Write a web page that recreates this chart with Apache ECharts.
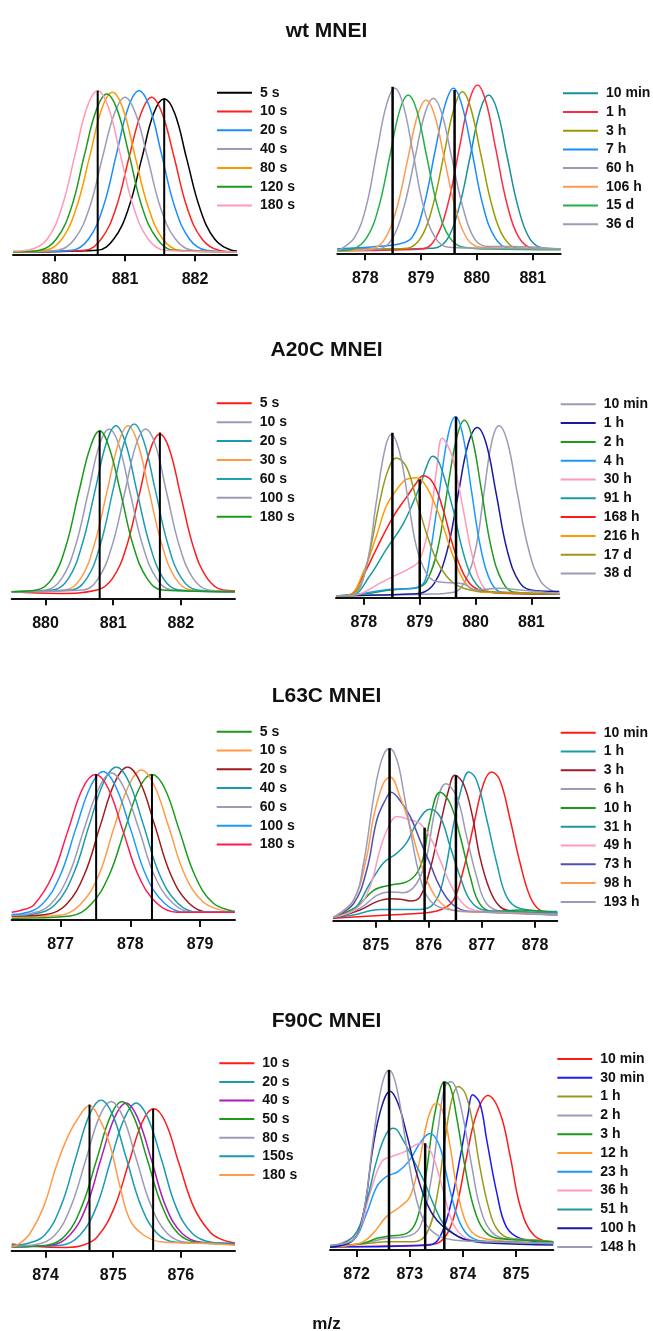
<!DOCTYPE html>
<html>
<head>
<meta charset="utf-8">
<script src="https://cdn.jsdelivr.net/npm/echarts@6/dist/echarts.min.js"></script>
<style>
  html, body { margin: 0; padding: 0; background: #fff; }
  #chart { width: 653px; height: 1331px; }
</style>
</head>
<body>
<div id="chart"></div>
<script>
// ---------- data (m/z, relative intensity) ----------
var wtFastNames = ['5 s', '10 s', '20 s', '40 s', '80 s', '120 s', '180 s'];
var wtFastTicks = [880, 881, 882];
var wtFastCurves = [
  [[879.4,0],[880.60,1],[880.84,8],[881.05,27],[881.24,58],[881.41,86],[881.56,95],[881.71,86],[881.88,58],[882.07,27],[882.28,8],[882.52,1],[882.6,0.5]],
  [[879.4,0],[880.42,1],[880.66,8],[880.87,27],[881.06,59],[881.23,86],[881.38,96],[881.53,86],[881.70,59],[881.89,27],[882.10,8],[882.34,1],[882.6,0]],
  [[879.4,0],[880.24,1],[880.48,8],[880.69,28],[880.88,61],[881.05,90],[881.20,100],[881.35,90],[881.52,61],[881.71,28],[881.92,8],[882.16,1],[882.6,0]],
  [[879.4,0],[880.04,1],[880.28,8],[880.49,27],[880.68,59],[880.85,86],[881.00,96],[881.15,86],[881.32,59],[881.51,27],[881.72,8],[881.96,1],[882.6,0]],
  [[879.4,0],[879.86,1],[880.10,8],[880.31,28],[880.50,60],[880.67,89],[880.82,99],[880.97,89],[881.14,60],[881.33,28],[881.54,8],[881.78,1],[882.6,0]],
  [[879.4,0],[879.78,1],[880.02,8],[880.23,27],[880.42,60],[880.59,88],[880.74,98],[880.89,88],[881.06,60],[881.25,27],[881.46,8],[881.70,1],[882.6,0]],
  [[879.4,0.5],[879.65,1.5],[879.89,8],[880.10,28],[880.29,61],[880.46,90],[880.61,100],[880.76,90],[880.93,61],[881.12,28],[881.33,8],[881.57,1],[882.6,0]]
];
var wtFastPeaks = [[880.61,100],[881.56,95]];

var wtSlowNames = ['10 min', '1 h', '3 h', '7 h', '60 h', '106 h', '15 d', '36 d'];
var wtSlowTicks = [878, 879, 880, 881];
var wtSlowCurves = [
  [[877.5,1],[878.5,1],[879.22,1.5],[879.47,7],[879.68,26],[879.88,57],[880.06,85],[880.21,94],[880.36,85],[880.54,57],[880.74,26],[880.95,7],[881.20,1.5],[881.5,1]],
  [[877.5,0],[879.02,1],[879.27,8],[879.48,28],[879.68,61],[879.86,90],[880.01,100],[880.16,90],[880.34,61],[880.54,28],[880.75,8],[881.00,1.5],[881.5,1]],
  [[877.5,0],[878.3,1],[878.75,1.5],[879.00,8],[879.21,27],[879.41,58],[879.59,86],[879.74,96],[879.89,86],[880.07,58],[880.27,27],[880.48,8],[880.73,1.5],[881.5,1]],
  [[877.5,1],[878.2,2.5],[878.6,4],[878.84,8],[879.05,27],[879.25,60],[879.43,88],[879.58,98],[879.73,88],[879.91,60],[880.11,27],[880.32,8],[880.57,1.5],[881.5,1]],
  [[877.5,0],[878.23,1],[878.48,7],[878.69,26],[878.89,56],[879.07,83],[879.22,92],[879.37,83],[879.55,56],[879.75,26],[879.96,7],[880.21,2.5],[880.6,2.5],[881.5,1]],
  [[877.5,0],[878.10,1],[878.35,7],[878.56,25],[878.76,55],[878.94,82],[879.09,91],[879.24,82],[879.42,55],[879.62,25],[879.83,7],[880.08,2],[880.5,1.5],[881.5,1]],
  [[877.5,0],[877.78,1],[878.03,8],[878.24,26],[878.44,57],[878.62,85],[878.77,94],[878.92,85],[879.10,57],[879.30,26],[879.51,8],[879.76,2],[880.2,1],[881.5,0.5]],
  [[877.5,0],[877.57,1],[877.81,8],[878.02,27],[878.21,60],[878.38,88],[878.53,98],[878.68,88],[878.85,60],[879.04,27],[879.25,8],[879.49,2],[880.0,1.5],[881.5,1]]
];
var wtSlowPeaks = [[878.49,99],[879.60,97]];

var a20cFastNames = ['5 s', '10 s', '20 s', '30 s', '60 s', '100 s', '180 s'];
var a20cFastTicks = [880, 881, 882];
var a20cFastCurves = [
  [[879.5,0],[880.2,-1],[880.76,1],[880.99,8],[881.19,26],[881.38,57],[881.55,85],[881.69,94],[881.83,85],[882.00,57],[882.19,26],[882.39,8],[882.62,1],[882.8,0.5]],
  [[879.5,0],[880.01,1],[880.24,8],[880.44,27],[880.63,59],[880.80,88],[880.94,97],[881.08,88],[881.25,59],[881.44,27],[881.64,8],[881.87,1],[882.8,0]],
  [[879.5,0],[880.11,1],[880.34,8],[880.54,28],[880.73,60],[880.90,89],[881.04,99],[881.18,89],[881.35,60],[881.54,28],[881.74,8],[881.97,1],[882.8,0]],
  [[879.5,0],[880.29,1],[880.52,8],[880.72,28],[880.91,60],[881.08,89],[881.22,99],[881.36,89],[881.53,60],[881.72,28],[881.92,8],[882.15,1],[882.8,0]],
  [[879.5,0],[880.38,1],[880.61,8],[880.81,28],[881.00,61],[881.17,90],[881.31,100],[881.45,90],[881.62,61],[881.81,28],[882.01,8],[882.24,1],[882.8,0]],
  [[879.5,0],[880.55,1],[880.78,8],[880.98,27],[881.17,59],[881.34,88],[881.48,97],[881.62,88],[881.79,59],[881.98,27],[882.18,8],[882.41,1],[882.8,0]],
  [[879.5,0],[879.87,1],[880.10,8],[880.30,27],[880.49,59],[880.66,86],[880.80,96],[880.94,86],[881.11,59],[881.30,27],[881.50,8],[881.73,1],[882.8,0]]
];
var a20cFastPeaks = [[880.80,96],[881.69,95]];

var a20cSlowNames = ['10 min', '1 h', '2 h', '4 h', '30 h', '91 h', '168 h', '216 h', '17 d', '38 d'];
var a20cSlowTicks = [878, 879, 880, 881];
var a20cSlowCurves = [
  [[877.5,0],[878.5,0.5],[879.2,1],[879.61,2],[879.81,8],[880.00,26],[880.14,55],[880.29,86],[880.42,95],[880.57,86],[880.75,57],[880.95,26],[881.17,8],[881.42,2],[881.5,1.5]],
  [[877.5,0],[878.3,0.5],[878.8,1],[879.01,1.5],[879.26,7],[879.49,25],[879.69,57],[879.87,85],[880.03,94],[880.19,85],[880.37,57],[880.57,25],[880.80,7],[881.05,3],[881.5,2.5]],
  [[877.5,0],[878.0,1],[878.4,3],[878.7,3.8],[878.95,4.5],[879.12,8],[879.32,26],[879.50,60],[879.66,88],[879.80,98],[879.94,88],[880.10,60],[880.28,27],[880.48,8],[880.70,2],[881.5,1]],
  [[877.5,0],[878.0,1.5],[878.4,3.5],[878.75,4],[878.98,5],[879.10,9],[879.20,26],[879.36,60],[879.51,90],[879.64,100],[879.77,90],[879.92,60],[880.09,27],[880.27,8],[880.48,2],[881.5,1]],
  [[877.5,0],[877.86,0.6],[878.28,7],[878.58,11.7],[878.82,15.4],[879.00,20],[879.18,42],[879.30,70],[879.40,88],[879.50,84],[879.60,76],[879.78,48],[879.96,20],[880.14,5],[880.38,1.5],[881.5,1]],
  [[877.5,0],[877.80,0.5],[878.10,11],[878.40,26],[878.70,40],[879.00,61],[879.12,72],[879.23,78],[879.32,76],[879.42,68],[879.60,48],[879.78,24],[879.96,9],[880.20,2.4],[880.56,1.5],[881.5,1]],
  [[877.5,0],[877.74,0.5],[877.98,11],[878.22,26],[878.52,44],[878.76,55],[878.94,63],[879.06,67],[879.24,63],[879.42,48],[879.60,27.5],[879.78,12.6],[879.96,5],[880.20,2.4],[880.56,1.5],[881.5,1]],
  [[877.5,0],[877.74,0.5],[877.98,12.6],[878.22,33],[878.40,50],[878.58,59],[878.76,65],[878.94,66],[879.12,61],[879.36,44],[879.60,22],[879.78,9],[879.96,3.3],[880.20,2],[881.5,1.5]],
  [[877.5,0],[877.68,0],[877.92,5],[878.10,24],[878.28,52],[878.43,70],[878.58,77],[878.76,72],[878.94,54],[879.12,35],[879.30,20],[879.48,11],[879.66,6],[879.90,3.3],[880.20,2.4],[881.5,1]],
  [[877.5,0],[877.80,0.5],[878.04,16],[878.22,52],[878.37,81],[878.49,90],[878.64,80],[878.79,54],[878.94,27.5],[879.12,12.6],[879.30,8],[879.54,7.4],[879.78,6.7],[880.02,3.3],[880.44,4.3],[880.80,3.3],[881.40,1.5],[881.5,1.2]]
];
var a20cSlowPeaks = [[878.51,91],[879.00,65],[879.65,100]];

var l63cFastNames = ['5 s', '10 s', '20 s', '40 s', '60 s', '100 s', '180 s'];
var l63cFastTicks = [877, 878, 879];
var l63cFastCurves = [
  [[876.3,-1],[877.14,0.5],[877.43,8],[877.69,27],[877.92,58],[878.13,86],[878.31,95],[878.49,86],[878.70,58],[878.93,27],[879.19,9],[879.5,3.5]],
  [[876.3,0],[876.99,1],[877.28,8],[877.54,27],[877.77,60],[877.98,88],[878.16,98],[878.34,88],[878.55,60],[878.78,28],[879.04,10],[879.33,4],[879.5,3]],
  [[876.3,0.5],[876.79,1.5],[877.08,8],[877.34,28],[877.57,61],[877.78,90],[877.96,100],[878.14,90],[878.35,61],[878.58,28],[878.84,9],[879.13,3],[879.5,3]],
  [[876.3,1],[876.63,2],[876.92,8],[877.18,28],[877.41,61],[877.62,90],[877.80,100],[877.98,90],[878.19,61],[878.42,28],[878.68,9],[878.97,3],[879.5,3]],
  [[876.3,1],[876.56,2],[876.85,8],[877.11,27],[877.34,59],[877.55,86],[877.73,96],[877.91,86],[878.12,59],[878.35,27],[878.61,9],[878.90,3],[879.5,3]],
  [[876.3,1.5],[876.44,2],[876.73,8],[876.99,27],[877.22,59],[877.43,87],[877.61,97],[877.79,87],[878.00,59],[878.23,27],[878.49,9],[878.78,3],[879.5,3]],
  [[876.3,3],[876.45,4.5],[876.62,8],[876.88,27],[877.11,58],[877.32,86],[877.50,95],[877.68,86],[877.89,58],[878.12,27],[878.38,9],[878.67,3],[879.5,3]]
];
var l63cFastPeaks = [[877.51,95],[878.31,95]];

var l63cSlowNames = ['10 min', '1 h', '3 h', '6 h', '10 h', '31 h', '49 h', '73 h', '98 h', '193 h'];
var l63cSlowTicks = [875, 876, 877, 878];
var l63cSlowCurves = [
  [[874.2,-0.6],[875.0,1],[875.83,2.4],[876.21,4.3],[876.46,10],[876.65,28],[876.84,54],[877.03,79],[877.18,86],[877.34,81],[877.53,58],[877.72,32],[877.91,12],[878.09,4.3],[878.42,1.4]],
  [[874.2,0],[874.58,1.4],[875.08,4.7],[875.83,4.7],[876.09,8],[876.27,22],[876.46,54],[876.62,77],[876.75,86],[876.90,81],[877.09,58],[877.28,32],[877.47,12],[877.72,5.3],[878.42,3.4]],
  [[874.2,-0.6],[874.70,4.3],[875.02,9.3],[875.27,11],[875.46,10.7],[875.65,9.7],[875.83,12],[876.02,28],[876.21,54],[876.37,75],[876.49,84],[876.65,79],[876.81,61.5],[876.96,36],[877.15,16],[877.34,6.3],[877.59,3.4],[878.42,2.4]],
  [[874.2,0],[874.70,5.3],[875.02,13],[875.27,15],[875.52,14.6],[875.77,20],[875.96,36],[876.12,63.5],[876.32,79],[876.53,71],[876.71,48],[876.90,24],[877.09,8],[877.40,3.4],[878.42,2.4]],
  [[874.2,0],[874.64,6.3],[874.96,16],[875.27,19],[875.58,21],[875.77,26],[875.90,36],[876.02,57.6],[876.21,74],[876.40,67.5],[876.59,48],[876.78,24],[876.96,8],[877.22,3.4],[877.72,4.3],[878.42,2.8]],
  [[874.2,0],[874.58,4.3],[874.89,20],[875.14,32],[875.40,38],[875.58,44],[875.77,55.6],[876.02,64],[876.21,59.6],[876.40,42],[876.59,24],[876.78,10],[877.03,4.3],[877.47,3.4],[878.42,2.8]],
  [[874.2,0],[874.64,5.3],[874.89,18],[875.08,40],[875.24,53.6],[875.40,59.6],[875.65,57.6],[875.83,55.6],[876.02,47.7],[876.21,34],[876.40,20],[876.59,10],[876.84,4.3],[877.40,2.8],[878.42,1.4]],
  [[874.2,0],[874.58,8],[874.83,28],[875.02,57.6],[875.18,69.4],[875.29,74],[875.46,69],[875.65,59.6],[875.83,45.8],[876.02,32],[876.21,18],[876.46,7.3],[876.78,3.4],[877.40,2.8],[878.42,1.4]],
  [[874.2,0],[874.58,10],[874.83,36],[874.96,59.6],[875.14,79],[875.27,83],[875.46,71],[875.65,53.6],[875.83,34],[876.02,18],[876.27,7.3],[876.59,3.4],[877.40,2.8],[878.42,1.4]],
  [[874.2,0],[874.58,10],[874.77,32],[874.96,71],[875.11,93],[875.26,100],[875.40,93],[875.52,75],[875.65,51.7],[875.83,24],[876.02,10],[876.27,5.3],[876.78,3.4],[878.42,1.4]]
];
var l63cSlowPeaks = [[875.26,100],[875.92,53],[876.51,84]];

var f90cFastNames = ['10 s', '20 s', '40 s', '50 s', '80 s', '150s', '180 s'];
var f90cFastTicks = [874, 875, 876];
var f90cFastCurves = [
  [[873.5,1.8],[873.8,0.3],[874.3,-0.5],[874.55,1],[874.77,7],[875.01,26],[875.23,57],[875.43,85],[875.60,94],[875.77,85],[875.97,57],[876.19,27],[876.43,10],[876.6,5],[876.8,2.5]],
  [[873.5,0],[874.23,1],[874.51,8],[874.75,27],[874.97,60],[875.17,88],[875.34,98],[875.51,88],[875.71,60],[875.93,27],[876.17,9],[876.45,3],[876.8,2]],
  [[873.5,0],[874.08,1],[874.36,8],[874.60,27],[874.82,60],[875.02,88],[875.19,98],[875.36,88],[875.56,60],[875.78,27],[876.02,9],[876.30,3],[876.8,2]],
  [[873.5,0],[874.02,1],[874.30,8],[874.54,28],[874.76,60],[874.96,89],[875.13,99],[875.30,89],[875.50,60],[875.72,28],[875.96,9],[876.24,3],[876.8,2]],
  [[873.5,0.5],[873.86,1.5],[874.14,8],[874.38,28],[874.60,60],[874.80,89],[874.97,99],[875.14,89],[875.34,60],[875.56,28],[875.80,9],[876.08,3],[876.8,2]],
  [[873.5,1],[873.71,2],[873.99,8],[874.23,28],[874.45,61],[874.65,90],[874.82,100],[874.99,90],[875.19,61],[875.41,28],[875.65,9],[875.93,3],[876.8,2]],
  [[873.5,0],[873.62,2.3],[873.77,9],[873.97,27],[874.16,55],[874.31,73],[874.46,86],[874.65,96],[874.81,86],[874.96,68],[875.10,41],[875.25,18],[875.45,8],[875.70,3.4],[876.29,2.3],[876.8,1]]
];
var f90cFastPeaks = [[874.65,97],[875.59,94]];

var f90cSlowNames = ['10 min', '30 min', '1 h', '2 h', '3 h', '12 h', '23 h', '36 h', '51 h', '100 h', '148 h'];
var f90cSlowTicks = [872, 873, 874, 875];
var f90cSlowCurves = [
  [[871.5,0],[872.56,0.4],[873.44,1.3],[873.69,6.6],[873.88,22.6],[874.07,51],[874.26,75.5],[874.47,85.5],[874.70,75.5],[874.89,51],[875.08,22.6],[875.33,6.6],[875.7,1.9]],
  [[871.5,0],[872.0,0],[873.38,1],[873.57,5.7],[873.76,22.6],[873.95,51],[874.10,75.5],[874.18,86],[874.32,81],[874.45,60],[874.64,30],[874.82,11],[875.08,4.7],[875.7,1.9]],
  [[871.5,0],[872.25,1.9],[872.56,2.8],[873.07,2.8],[873.32,7.5],[873.51,28],[873.66,60],[873.79,83],[873.91,90.6],[874.04,87],[874.17,72],[874.32,45],[874.48,22.6],[874.64,10],[874.89,4.7],[875.39,3.8],[875.7,2.8]],
  [[871.5,0],[872.13,1.9],[872.56,4.7],[872.94,5.7],[873.19,11],[873.38,34],[873.54,68],[873.66,90.6],[873.78,93.4],[873.88,88.7],[874.01,72],[874.17,45],[874.32,22.6],[874.51,9.4],[874.76,4.7],[875.20,3.8],[875.7,2.8]],
  [[871.5,0],[872.13,1.9],[872.38,4.7],[872.63,6],[872.94,7.5],[873.13,15],[873.29,37.7],[873.44,70],[873.57,88.7],[873.65,93.4],[873.76,90.6],[873.88,73.6],[874.04,45],[874.20,22.6],[874.39,9.4],[874.64,4.7],[875.08,3.8],[875.7,2.8]],
  [[871.5,0],[872.06,1.9],[872.31,7.5],[872.56,17],[872.82,22.6],[873.00,28],[873.16,45],[873.32,70],[873.44,80],[873.52,81],[873.63,75.5],[873.76,56.6],[873.88,34],[874.04,15],[874.23,6.6],[874.57,3.8],[875.7,1.9]],
  [[871.5,0],[871.94,3.8],[872.19,19],[872.38,34],[872.56,39.6],[872.78,42.5],[873.00,49],[873.19,58.5],[873.38,64],[873.54,58.5],[873.66,45],[873.79,28],[873.95,13],[874.13,5.7],[874.45,2.8],[875.7,1.9]],
  [[871.5,0],[872.00,7.5],[872.25,30],[872.47,48],[872.66,51],[872.91,53.8],[873.10,57.5],[873.21,58.5],[873.38,54.7],[873.54,41.5],[873.69,24.5],[873.85,11],[874.07,4.7],[874.45,2.8],[875.7,1.9]],
  [[871.5,0],[871.94,5.7],[872.19,26],[872.38,49],[872.56,64],[872.70,67],[872.88,60],[873.07,49],[873.26,37.7],[873.44,24.5],[873.63,13],[873.82,7.5],[874.07,3.8],[874.76,2.8],[875.7,1.9]],
  [[871.5,-0.4],[871.94,3.8],[872.13,19],[872.31,56.6],[872.47,79],[872.63,88],[872.78,81],[872.94,64],[873.13,41.5],[873.32,24.5],[873.51,15],[873.76,8.5],[874.07,3.8],[874.57,1.9],[875.7,1]],
  [[871.5,1],[871.94,3.8],[872.13,19],[872.31,60],[872.47,90.6],[872.61,100],[872.75,90.6],[872.91,62],[873.07,34],[873.26,15],[873.51,6.6],[873.82,3.8],[874.45,2.8],[875.7,1.9]]
];
var f90cSlowPeaks = [[872.61,100],[873.29,58.5],[873.65,93.4]];

var titles = ['wt MNEI', 'A20C MNEI', 'L63C MNEI', 'F90C MNEI'];
var xTitle = 'm/z';

// ---------- styles ----------
var GRAY = '#9b9bb8';
var wtFastColors = ['#000000', '#ff2020', '#1a8cff', GRAY, '#ff9900', '#1a9a1a', '#ff9ab4'];
var wtSlowColors = ['#17909a', '#ff2a40', '#9a9a00', '#1a8cff', GRAY, '#ff9a50', '#22b04a', GRAY];
var a20cFastColors = ['#ff1a1a', GRAY, '#1a9ab0', '#ff9a4a', '#20a0b0', GRAY, '#1a9a1a'];
var a20cSlowColors = [GRAY, '#1a1aa0', '#1f9a1f', '#1a9aff', '#ff9ab4', '#1a9aa0', '#ff1a1a', '#ff9a00', '#9a9a1a', GRAY];
var l63cFastColors = ['#1a9a1a', '#ff9a4a', '#a01a1a', '#1a9aaa', GRAY, '#1a9aff', '#ff1a50'];
var l63cSlowColors = ['#ff1a1a', '#1a9ab0', '#a01a2a', GRAY, '#1a9a1a', '#1a9aa0', '#ff9ac0', '#5050b0', '#ff9a4a', GRAY];
var f90cFastColors = ['#ff1a1a', '#1a9ab0', '#b01ab8', '#1a9a1a', GRAY, '#1a9ab0', '#ff9a4a'];
var f90cSlowColors = ['#ff1a1a', '#1a1aff', '#9a9a1a', GRAY, '#1a9a1a', '#ff9a30', '#1a9aff', '#ff9ac0', '#1a9aa0', '#1a1a9a', GRAY];

var FONT = 'Liberation Sans, Arial, sans-serif';

var panels = [
  { names: wtFastNames, curves: wtFastCurves, peaks: wtFastPeaks, ticks: wtFastTicks, colors: wtFastColors,
    grid: { left: 13, top: 90.7, width: 224, height: 163.6 }, xRange: [879.4, 882.6], yMin: -1.5, legend: [217, 92.7, 18.8], markW: 2 },
  { names: wtSlowNames, curves: wtSlowCurves, peaks: wtSlowPeaks, ticks: wtSlowTicks, colors: wtSlowColors,
    grid: { left: 337.3, top: 85, width: 223.4, height: 168.3 }, xRange: [877.5, 881.5], yMin: -1.6, legend: [563, 93.3, 18.7], markW: 2.5 },
  { names: a20cFastNames, curves: a20cFastCurves, peaks: a20cFastPeaks, ticks: a20cFastTicks, colors: a20cFastColors,
    grid: { left: 11.7, top: 424, width: 223.3, height: 174.3 }, xRange: [879.5, 882.8], yMin: -3.9, legend: [216.7, 403.3, 18.9], markW: 2 },
  { names: a20cSlowNames, curves: a20cSlowCurves, peaks: a20cSlowPeaks, ticks: a20cSlowTicks, colors: a20cSlowColors,
    grid: { left: 336, top: 416.7, width: 223.3, height: 181 }, xRange: [877.5, 881.5], yMin: -1, legend: [560.7, 404.3, 18.8], markW: 2.5 },
  { names: l63cFastNames, curves: l63cFastCurves, peaks: l63cFastPeaks, ticks: l63cFastTicks, colors: l63cFastColors,
    grid: { left: 11.7, top: 767, width: 223.3, height: 153 }, xRange: [876.3, 879.5], yMin: -2.2, legend: [216.7, 731.7, 18.8], markW: 2 },
  { names: l63cSlowNames, curves: l63cSlowCurves, peaks: l63cSlowPeaks, ticks: l63cSlowTicks, colors: l63cSlowColors,
    grid: { left: 333.3, top: 748.3, width: 224, height: 172.4 }, xRange: [874.2, 878.42], yMin: -2, legend: [560.7, 732.7, 18.8], markW: 2.5 },
  { names: f90cFastNames, curves: f90cFastCurves, peaks: f90cFastPeaks, ticks: f90cFastTicks, colors: f90cFastColors,
    grid: { left: 11.7, top: 1100, width: 223.3, height: 150.7 }, xRange: [873.5, 876.8], yMin: -2.7, legend: [219.3, 1063.3, 18.6], markW: 2 },
  { names: f90cSlowNames, curves: f90cSlowCurves, peaks: f90cSlowPeaks, ticks: f90cSlowTicks, colors: f90cSlowColors,
    grid: { left: 330, top: 1070, width: 223.3, height: 180 }, xRange: [871.5, 875.7], yMin: -1.9, legend: [557.3, 1059, 18.8], markW: 2.5 }
];

var titleCenters = [28, 347, 693, 1018];

// ---------- build option ----------
var grids = [], xAxes = [], yAxes = [], legends = [], series = [];

panels.forEach(function (p, i) {
  grids.push(p.grid);
  xAxes.push({
    type: 'value', gridIndex: i, min: p.xRange[0], max: p.xRange[1],
    splitLine: { show: false },
    axisLine: { onZero: false, lineStyle: { color: '#111', width: 2 } },
    axisTick: { customValues: p.ticks, length: 7, lineStyle: { color: '#111', width: 2 } },
    axisLabel: { customValues: p.ticks, margin: 17, color: '#111', fontSize: 16, fontWeight: 'bold', fontFamily: FONT }
  });
  yAxes.push({ type: 'value', gridIndex: i, min: p.yMin, max: 100, show: false });

  legends.push({
    orient: 'vertical', left: p.legend[0], top: p.legend[1] - p.legend[2] / 2,
    padding: 0, itemGap: 0, itemWidth: 35, itemHeight: 2, icon: 'rect', selectedMode: false,
    itemStyle: { borderWidth: 0 },
    textStyle: { fontSize: 14, fontWeight: 'bold', color: '#111', fontFamily: FONT,
                 lineHeight: p.legend[2], padding: [0, 0, 0, 3] },
    data: p.names.map(function (n, k) { return { name: n, itemStyle: { color: p.colors[k] } }; })
  });

  p.curves.forEach(function (c, k) {
    series.push({
      type: 'line', name: p.names[k], xAxisIndex: i, yAxisIndex: i,
      data: c, symbol: 'none', showSymbol: false, smooth: 0.4, silent: true,
      lineStyle: { width: 1.5, color: p.colors[k] }, itemStyle: { color: p.colors[k] }, z: 2
    });
  });

  p.peaks.forEach(function (pk, k) {
    series.push({
      type: 'line', name: 'peak-' + i + '-' + k, xAxisIndex: i, yAxisIndex: i,
      data: [[pk[0], p.yMin], [pk[0], pk[1]]], symbol: 'none', silent: true,
      lineStyle: { width: p.markW, color: '#000' }, z: 3
    });
  });
});

var titleList = titles.map(function (t, i) {
  return { text: t, left: 'center', top: titleCenters[i] - 12,
           textStyle: { fontSize: 21, fontWeight: 'bold', color: '#111', fontFamily: FONT } };
});
titleList.push({ text: xTitle, left: 'center', top: 1311,
                 textStyle: { fontSize: 17, fontWeight: 'bold', color: '#111', fontFamily: FONT } });

var chart = echarts.init(document.getElementById('chart'), null, { renderer: 'canvas' });
chart.setOption({
  animation: false,
  backgroundColor: '#fff',
  title: titleList,
  grid: grids,
  xAxis: xAxes,
  yAxis: yAxes,
  legend: legends,
  series: series
});
</script>
</body>
</html>
